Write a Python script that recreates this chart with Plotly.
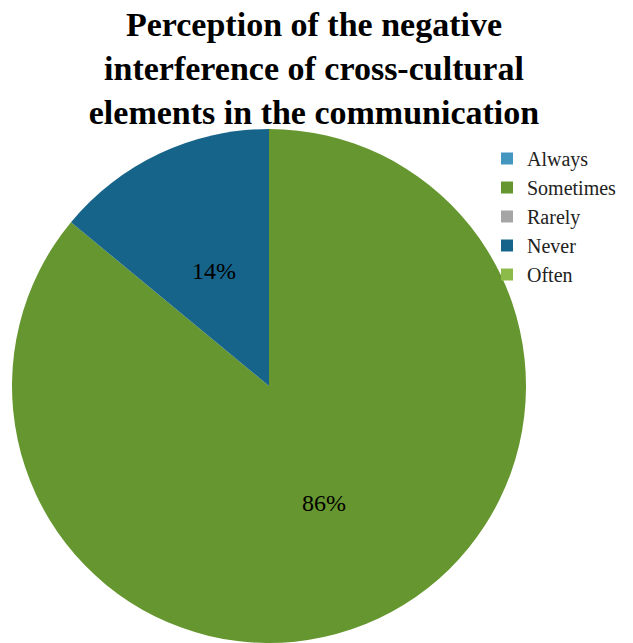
import math
import plotly.graph_objects as go

# Survey answers and their shares (percent)
categories = ["Always", "Sometimes", "Rarely", "Never", "Often"]
shares = [0, 86, 0, 14, 0]
colors = ["#4396C0", "#66962F", "#A5A5A5", "#17648A", "#8CBB4A"]

W, H = 633, 643
SERIF = "Liberation Serif"

# Pie placement in pixels (left, right, top, bottom of the domain box)
left_px, right_px, top_px, bottom_px = 11, 527, 129, 643
dom_x = [left_px / W, right_px / W]
dom_y = [1 - bottom_px / H, 1 - top_px / H]

fig = go.Figure(
    go.Pie(
        labels=categories,
        values=shares,
        marker=dict(colors=colors, line=dict(width=0)),
        sort=False,
        direction="clockwise",
        rotation=0,
        textinfo="none",
        hoverinfo="label+percent",
        domain=dict(x=dom_x, y=dom_y),
    )
)

# Percent labels placed halfway out along each slice's bisector
cx = (left_px + right_px) / 2
r = min(right_px - left_px, bottom_px - top_px) / 2
cy = top_px + (bottom_px - top_px) / 2 + 1
total = sum(shares)
start = 0.0
annotations = []
for name, v in zip(categories, shares):
    if v <= 0:
        continue
    frac = v / total
    mid = (start + frac / 2) * 2 * math.pi
    px = cx + 0.5 * r * math.sin(mid)
    py = cy - 0.5 * r * math.cos(mid)
    annotations.append(
        dict(
            x=px / W, y=1 - py / H, xref="paper", yref="paper",
            text=f"{round(frac * 100)}%", showarrow=False,
            font=dict(family=SERIF, size=24, color="#000000"),
            xanchor="center", yanchor="middle",
        )
    )
    start += frac

fig.update_layout(
    width=W,
    height=H,
    margin=dict(l=0, r=0, t=0, b=0, autoexpand=False),
    paper_bgcolor="white",
    plot_bgcolor="white",
    title=dict(
        text="Perception of the negative<br>interference of cross-cultural<br>elements in the communication",
        x=314 / W, xanchor="center",
        y=1 - 36 / H, yanchor="top", yref="container",
        font=dict(family=SERIF, size=34, color="#000000", weight="bold"),
    ),
    legend=dict(
        x=487 / W, y=1 - 139 / H, xanchor="left", yanchor="top",
        font=dict(family=SERIF, size=20, color="#222222"),
        bgcolor="rgba(0,0,0,0)",
        traceorder="normal",
    ),
    annotations=annotations,
    showlegend=True,
)

fig.write_html("out.html")
